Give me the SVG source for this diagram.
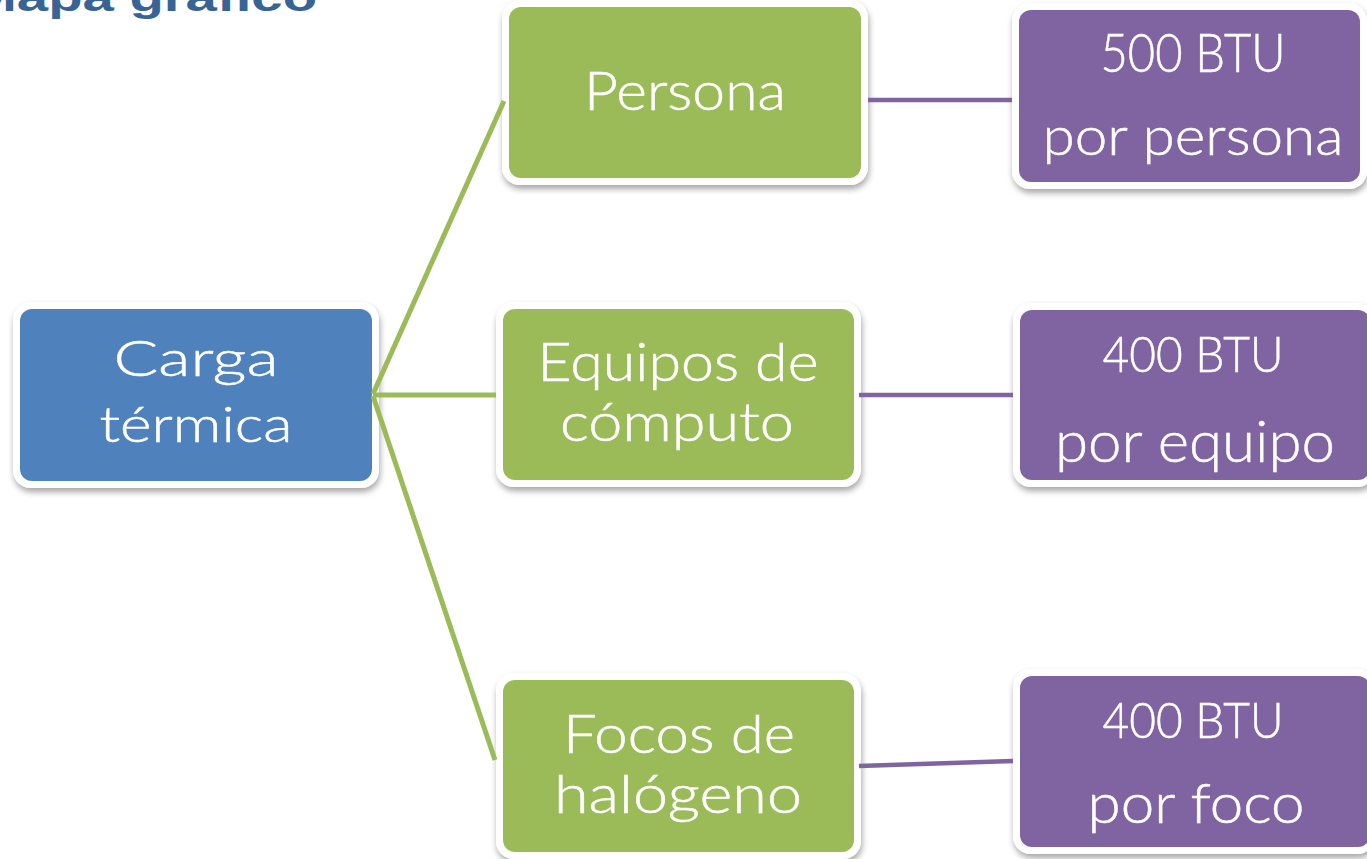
<svg xmlns="http://www.w3.org/2000/svg" width="1367" height="859" viewBox="0 0 1367 859">
  <defs>
    <filter id="sh" x="-10%" y="-10%" width="120%" height="125%">
      <feDropShadow dx="1" dy="4" stdDeviation="3" flood-color="#000" flood-opacity="0.35"/>
    </filter>
    <style>
      .frame { fill: #ffffff; filter: url(#sh); }
      .blue { fill: #4f81bd; }
      .green { fill: #9bbb59; }
      .purple { fill: #8064a2; }
      .lbl { font-family: Lato, "Open Sans", "Liberation Sans", sans-serif; font-weight: 300; fill: #ffffff; text-anchor: middle; stroke: #ffffff; stroke-width: 0.5; }
      .title { font-family: "Liberation Sans", Arial, sans-serif; font-weight: bold; fill: #386495; }
      .cg { stroke: #9bbb59; stroke-width: 5; fill: none; }
      .cp { stroke: #8064a2; stroke-width: 4.5; fill: none; }
    </style>
  </defs>
  <rect width="1367" height="859" fill="#ffffff"/>

  <text class="title" x="-30" y="11" font-size="40" textLength="347" lengthAdjust="spacingAndGlyphs">Mapa gráfico</text>

  <g id="carga">
    <rect class="frame" x="13" y="302" width="366" height="186" rx="18"/>
    <rect class="blue" x="20" y="309" width="352" height="172" rx="12"/>
    <text class="lbl" x="196" y="376" font-size="50" textLength="165" lengthAdjust="spacingAndGlyphs">Carga</text>
    <text class="lbl" x="196" y="442" font-size="50" textLength="193" lengthAdjust="spacingAndGlyphs">térmica</text>
  </g>

  <g id="persona">
    <rect class="frame" x="502" y="0" width="366" height="185" rx="18"/>
    <rect class="green" x="509" y="7" width="352" height="171" rx="12"/>
    <text class="lbl" x="685" y="110" font-size="53" textLength="202" lengthAdjust="spacingAndGlyphs">Persona</text>
  </g>

  <g id="equipos">
    <rect class="frame" x="496" y="302" width="365" height="185" rx="18"/>
    <rect class="green" x="503" y="309" width="351" height="171" rx="12"/>
    <text class="lbl" x="678" y="381" font-size="53" textLength="281" lengthAdjust="spacingAndGlyphs">Equipos de</text>
    <text class="lbl" x="677" y="441" font-size="53" textLength="234" lengthAdjust="spacingAndGlyphs">cómputo</text>
  </g>

  <g id="focos">
    <rect class="frame" x="496" y="673" width="365" height="186" rx="18"/>
    <rect class="green" x="503" y="680" width="351" height="172" rx="12"/>
    <text class="lbl" x="679" y="753" font-size="53" textLength="232" lengthAdjust="spacingAndGlyphs">Focos de</text>
    <text class="lbl" x="678" y="813" font-size="53" textLength="248" lengthAdjust="spacingAndGlyphs">halógeno</text>
  </g>

  <g id="btu500">
    <rect class="frame" x="1012" y="3" width="355" height="186" rx="18"/>
    <rect class="purple" x="1019" y="10" width="341" height="172" rx="12"/>
    <text class="lbl" x="1193" y="72" font-size="53" textLength="185" lengthAdjust="spacingAndGlyphs">500 BTU</text>
    <text class="lbl" x="1193" y="155" font-size="53" textLength="301" lengthAdjust="spacingAndGlyphs">por persona</text>
  </g>

  <g id="btu400a">
    <rect class="frame" x="1013" y="303" width="362" height="184" rx="18"/>
    <rect class="purple" x="1020" y="310" width="350" height="170" rx="12"/>
    <text class="lbl" x="1193" y="372" font-size="50" textLength="181" lengthAdjust="spacingAndGlyphs">400 BTU</text>
    <text class="lbl" x="1195" y="462" font-size="58" textLength="280" lengthAdjust="spacingAndGlyphs">por equipo</text>
  </g>

  <g id="btu400b">
    <rect class="frame" x="1013" y="669" width="362" height="185" rx="18"/>
    <rect class="purple" x="1020" y="676" width="350" height="171" rx="12"/>
    <text class="lbl" x="1193" y="738" font-size="50" textLength="181" lengthAdjust="spacingAndGlyphs">400 BTU</text>
    <text class="lbl" x="1196" y="823" font-size="56" textLength="217" lengthAdjust="spacingAndGlyphs">por foco</text>
  </g>

  <g id="connectors">
    <line class="cg" x1="373" y1="394" x2="504" y2="101"/>
    <line class="cg" x1="373" y1="395" x2="496" y2="395"/>
    <line class="cg" x1="373" y1="396" x2="495" y2="760"/>
    <line class="cp" x1="868" y1="100" x2="1012" y2="100"/>
    <line class="cp" x1="859" y1="395" x2="1013" y2="395"/>
    <line class="cp" x1="859" y1="766" x2="1013" y2="761"/>
  </g>
</svg>
